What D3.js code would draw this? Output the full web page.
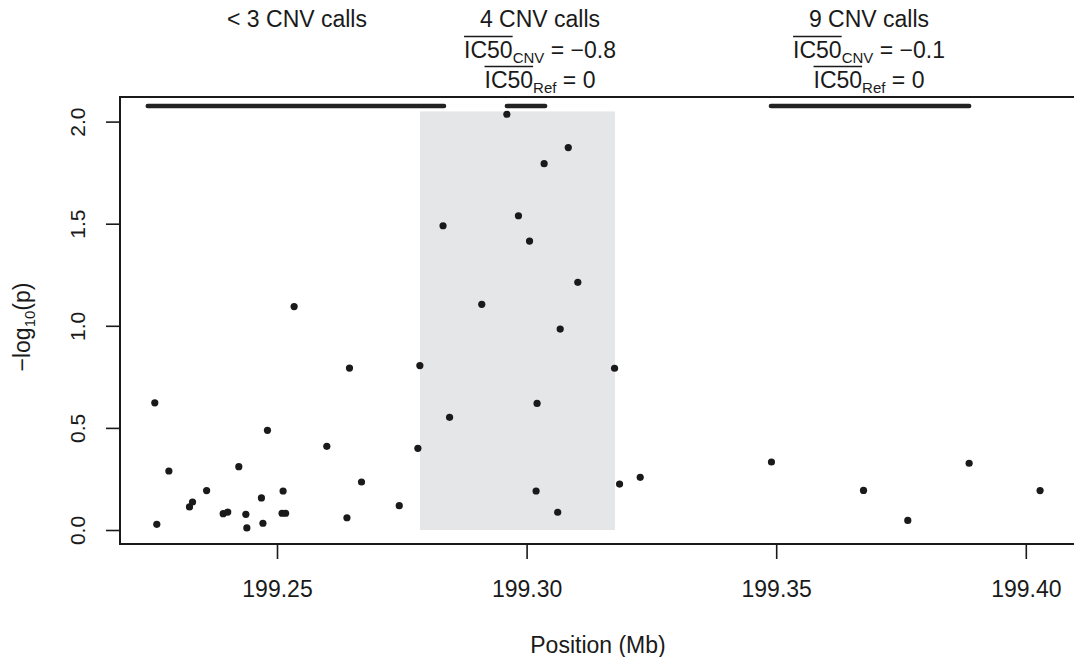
<!DOCTYPE html>
<html>
<head>
<meta charset="utf-8">
<script src="https://cdn.jsdelivr.net/npm/d3@7"></script>
<style>
  body { margin: 0; background: #fff; }
  svg text { font-family: "Liberation Sans", Arial, Helvetica, sans-serif; fill: #1a1a1a; }
</style>
</head>
<body>
<svg width="1074" height="657"></svg>
<script>
// positions (Mb) and -log10(p)
const positions = [
	199.22552, 199.22592, 199.22834, 199.23247, 199.23308, 199.23590, 199.23922, 199.24013,
	199.24235, 199.24376, 199.24396, 199.24688, 199.24718, 199.24809, 199.25101, 199.25122,
	199.25172, 199.25343, 199.25998, 199.26401, 199.26452, 199.26693, 199.27449, 199.27822,
	199.27862, 199.28326, 199.28457, 199.29102, 199.29605, 199.29837, 199.30059, 199.30190,
	199.30210, 199.30351, 199.30623, 199.30673, 199.30835, 199.31026, 199.31762, 199.31862,
	199.32276, 199.34905, 199.36749, 199.37636, 199.38865, 199.40286
];
const pvalues = [
	0.623, 0.028, 0.289, 0.113, 0.137, 0.193, 0.080, 0.088,
	0.310, 0.077, 0.010, 0.157, 0.033, 0.488, 0.082, 0.191,
	0.082, 1.094, 0.410, 0.060, 0.793, 0.235, 0.119, 0.400,
	0.805, 1.490, 0.552, 1.105, 2.036, 1.539, 1.415, 0.191,
	0.620, 1.794, 0.087, 0.984, 1.873, 1.213, 0.792, 0.225,
	0.258, 0.333, 0.194, 0.047, 0.327, 0.193
];

// CNV regions: [start, end]
const cnvStarts = [199.22411, 199.29605, 199.34895];
const cnvEnds = [199.28346, 199.30371, 199.38865];
const cnvLevel = 2.076;
const cnvCalls = ['< 3 CNV calls', '4 CNV calls', '9 CNV calls'];
const ic50Cnv = [null, '\u22120.8', '\u22120.1'];
const ic50Ref = [null, '0', '0'];

// shaded region
const shadeStart = 199.27865;
const shadeEnd = 199.31770;
const shadeTop = 2.05;

const xTicks = [199.25, 199.30, 199.35, 199.40];
const yTicks = [0, 0.5, 1.0, 1.5, 2.0];

const $svg = d3.select('svg');

const scaleX = d3.scaleLinear()
	.domain([199.25, 199.40])
	.range([277, 1025.8]);

const scaleY = d3.scaleLinear()
	.domain([0, 2])
	.range([530, 121.6]);

const box = {left: 120, top: 97, right: 1080, bottom: 544};
const fs = 23;

// shaded rect
$svg.append('rect')
	.attr('x', scaleX(shadeStart))
	.attr('y', scaleY(shadeTop))
	.attr('width', scaleX(shadeEnd) - scaleX(shadeStart))
	.attr('height', scaleY(0) - scaleY(shadeTop))
	.style('fill', '#e5e6e8');

// CNV segments
$svg.selectAll('.cnv')
	.data(cnvStarts)
	.enter()
	.append('line')
	.attr('class', 'cnv')
	.attr('x1', d => scaleX(d))
	.attr('x2', (d, i) => scaleX(cnvEnds[i]))
	.attr('y1', scaleY(cnvLevel))
	.attr('y2', scaleY(cnvLevel))
	.style('stroke', '#222')
	.style('stroke-width', 4.5)
	.style('stroke-linecap', 'round');

// points
$svg.selectAll('.dot')
	.data(positions)
	.enter()
	.append('circle')
	.attr('class', 'dot')
	.attr('cx', d => scaleX(d))
	.attr('cy', (d, i) => scaleY(pvalues[i]))
	.attr('r', 3.6)
	.style('fill', '#1a1a1a');

// box
$svg.append('rect')
	.attr('x', box.left)
	.attr('y', box.top)
	.attr('width', box.right - box.left)
	.attr('height', box.bottom - box.top)
	.style('fill', 'none')
	.style('stroke', '#1a1a1a')
	.style('stroke-width', 2);

// x axis
const $xAxis = $svg.append('g')
	.attr('transform', 'translate(0,' + box.bottom + ')')
	.call(d3.axisBottom(scaleX).tickValues(xTicks).tickFormat(d3.format('.2f')).tickSize(15).tickPadding(22));
$xAxis.select('.domain').remove();
$xAxis.selectAll('line').style('stroke', '#1a1a1a').style('stroke-width', 1.6);
$xAxis.selectAll('text').style('font-size', fs + 'px').style('font-family', null).attr('fill', null);

// y axis
const $yAxis = $svg.append('g')
	.attr('transform', 'translate(' + box.left + ',0)')
	.call(d3.axisLeft(scaleY).tickValues(yTicks).tickFormat(d3.format('.1f')).tickSize(14));
$yAxis.select('.domain').remove();
$yAxis.selectAll('line').style('stroke', '#1a1a1a').style('stroke-width', 1.6);
$yAxis.selectAll('text')
	.attr('x', null).attr('dy', null).attr('fill', null)
	.attr('text-anchor', 'middle')
	.attr('transform', 'translate(-35,0) rotate(-90)')
	.style('font-size', '21px').style('font-family', null);

// axis titles
$svg.append('text')
	.attr('x', 598)
	.attr('y', 653)
	.attr('text-anchor', 'middle')
	.style('font-size', fs + 'px')
	.text('Position (Mb)');

const $yTitle = $svg.append('text')
	.attr('transform', 'translate(30,327) rotate(-90)')
	.attr('text-anchor', 'middle')
	.style('font-size', fs + 'px');
$yTitle.append('tspan').text('\u2212log');
$yTitle.append('tspan').attr('dy', 5).style('font-size', '15px').text('10');
$yTitle.append('tspan').attr('dy', -5).text('(p)');

// CNV annotations
const annX = [297, 540, 869];

cnvCalls.forEach(function(label, i) {
	const cx = annX[i];
	$svg.append('text')
		.attr('x', cx).attr('y', 27)
		.attr('text-anchor', 'middle')
		.style('font-size', fs + 'px')
		.text(label);
	if (ic50Cnv[i] === null) return;
	[['CNV', ic50Cnv[i], 58], ['Ref', ic50Ref[i], 88]].forEach(function(row) {
		const t = $svg.append('text')
			.attr('x', cx).attr('y', row[2])
			.attr('text-anchor', 'middle')
			.style('font-size', fs + 'px');
		t.append('tspan').text('IC50');
		t.append('tspan').attr('dy', 5).style('font-size', '15px').text(row[0]);
		t.append('tspan').attr('dy', -5).text(' = ' + row[1]);
		const node = t.node();
		const x0 = node.getStartPositionOfChar(0).x;
		const x1 = node.getEndPositionOfChar(3).x;
		$svg.append('line')
			.attr('x1', x0).attr('x2', x1)
			.attr('y1', row[2] - 21.5).attr('y2', row[2] - 21.5)
			.style('stroke', '#1a1a1a')
			.style('stroke-width', 1.4);
	});
});
</script>
</body>
</html>
